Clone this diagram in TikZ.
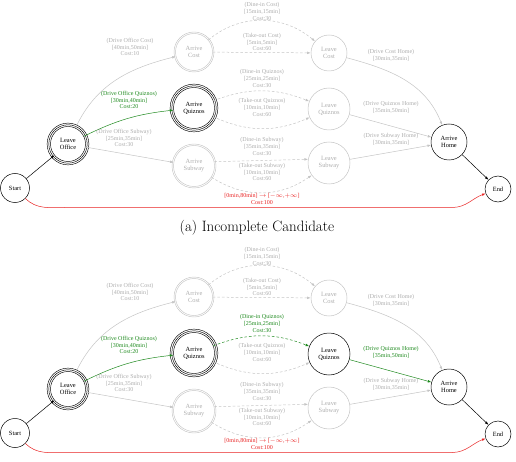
\documentclass[tikz,border=0pt]{standalone}
\usepackage{fontspec}
\newfontfamily\tms{Liberation Serif}
\usetikzlibrary{arrows.meta}
\definecolor{lgray}{HTML}{C4C4C4}
\definecolor{tgray}{HTML}{ADADAD}
\definecolor{dgreen}{HTML}{1F8A1F}
\definecolor{rred}{HTML}{E82222}
\tikzset{
  st/.style={circle, draw=black, line width=0.5pt, inner sep=0pt, align=center, text=black,
    font=\tms\fontsize{6.4}{7}\selectfont},
  ring/.style={line width=0.45pt},
  grayn/.style={draw=lgray, text=tgray},
  arr/.style={-{Latex[length=3.6pt,width=2.6pt]}, line width=0.5pt},
  blk/.style={arr, draw=black},
  gedge/.style={arr, draw=lgray},
  gdash/.style={gedge, dash pattern=on 2.6pt off 2pt},
  grn/.style={arr, draw=dgreen},
  grndash/.style={grn, dash pattern=on 2.6pt off 2pt},
  lab/.style={font=\tms\fontsize{6}{6.8}\selectfont, align=center, inner sep=0pt},
  glab/.style={lab, text=tgray},
  grlab/.style={lab, text=dgreen},
  rlab/.style={lab, text=rred},
}
\newcommand\drawgraph[1]{%
  % nodes
  \node[st, minimum size=29pt] (#1start) at (15,188) {Start};
  \node[st, ring, minimum size=35pt] (#1lo) at (68,144) {Leave\\Office};
  \draw[ring] (#1lo.center) circle[radius=19.2pt] (#1lo.center) circle[radius=20.9pt];
  \node[st, ring, grayn, minimum size=37pt] (#1ac) at (194,52) {Arrive\\Cost};
  \draw[ring, lgray] (#1ac.center) circle[radius=20pt];
  \node[st, ring, minimum size=41pt] (#1aq) at (194,108) {Arrive\\Quiznos};
  \draw[ring] (#1aq.center) circle[radius=22.2pt] (#1aq.center) circle[radius=23.9pt];
  \node[st, ring, grayn, minimum size=41pt] (#1as) at (194,166) {Arrive\\Subway};
  \draw[ring, lgray] (#1as.center) circle[radius=22pt];
  \node[st, grayn, minimum size=36pt] (#1lc) at (329,53) {Leave\\Cost};
  \node[st, lqnode, minimum size=42pt] (#1lq) at (329,109) {Leave\\Quiznos};
  \node[st, grayn, minimum size=42pt] (#1ls) at (329,163) {Leave\\Subway};
  \node[st, minimum size=36pt] (#1ah) at (449,142) {Arrive\\Home};
  \node[st, minimum size=26pt] (#1end) at (498,189) {End};
  \coordinate (#1r1) at (65,207.5);
  \coordinate (#1r2) at (452,207.5);
  % edges
  \draw[blk] (#1start) -- (#1lo);
  \draw[gedge] (#1lo.65) to[out=65,in=194] (#1ac);
  \draw[grn] (#1lo) to[bend left=10] (#1aq);
  \draw[gedge] (#1lo) -- (#1as);
  \draw[gdash] (#1ac) to[out=40,in=140] (#1lc);
  \draw[gdash] (#1ac) -- (#1lc);
  \draw[dqedge] (#1aq) to[bend left=21] (#1lq);
  \draw[gdash] (#1aq) to[bend right=24] (#1lq);
  \draw[gdash] (#1as.12) -- (#1ls.170);
  \draw[gdash] (#1as) to[bend right=34] (#1ls);
  \draw[gedge] (#1lc) to[out=-15,in=112] (#1ah);
  \draw[hqedge] (#1lq) -- (#1ah);
  \draw[gedge] (#1ls) -- (#1ah);
  \draw[blk] (#1ah) -- (#1end);
  \draw[arr, draw=rred] (#1start.-45) to[out=-45,in=180] (#1r1) -- (#1r2) to[out=0,in=200] (#1end);
  % labels
  \node[glab] (#1l1) at (130,47) {(Drive Office Cost)\\{}[40min,50min]\\Cost:10};
  \node[grlab] (#1l2) at (129,100) {(Drive Office Quiznos)\\{}[30min,40min]\\Cost:20};
  \node[glab] (#1l3) at (124,138) {(Drive Office Subway)\\{}[25min,35min]\\Cost:30};
  \node[glab] (#1l4) at (262,11.5) {(Dine-in Cost)\\{}[15min,15min]\\Cost:30};
  \node[glab] (#1l5) at (262,42) {(Take-out Cost)\\{}[5min,5min]\\Cost:60};
  \node[dqlab] (#1l6) at (262,78.5) {(Dine-in Quiznos)\\{}[25min,25min]\\Cost:30};
  \node[glab] (#1l7) at (262,107.5) {(Take-out Quiznos)\\{}[10min,10min]\\Cost:60};
  \node[glab] (#1l8) at (262,146.5) {(Dine-in Subway)\\{}[35min,35min]\\Cost:30};
  \node[glab] (#1l9) at (262,172) {(Take-out Subway)\\{}[10min,10min]\\Cost:60};
  \node[glab] (#1l10) at (391,55.5) {(Drive Cost Home)\\{}[30min,35min]};
  \node[hqlab] (#1l11) at (391,107) {(Drive Quiznos Home)\\{}[35min,50min]};
  \node[glab] (#1l12) at (391,139.5) {(Drive Subway Home)\\{}[30min,35min]};
  \node[rlab] (#1l13) at (262,199) {[0min,80min] $\rightarrow$ [$-\infty$,$+\infty$]\\Cost:100};
}
\begin{document}
\begin{tikzpicture}[x=1pt,y=-1pt]
  \useasboundingbox (0,0) rectangle (516,462);
  \begin{scope}[lqnode/.style={grayn}, dqedge/.style={gdash}, dqlab/.style={glab},
                hqedge/.style={gedge}, hqlab/.style={glab}]
    \drawgraph{a}
  \end{scope}
  \node (caption) at (257,228) {\fontsize{15}{18}\selectfont (a) Incomplete Candidate};
  \begin{scope}[yshift=-245pt, lqnode/.style={draw=black}, dqedge/.style={grndash}, dqlab/.style={grlab},
                hqedge/.style={grn}, hqlab/.style={grlab}]
    \drawgraph{b}
  \end{scope}
\end{tikzpicture}
\end{document}
